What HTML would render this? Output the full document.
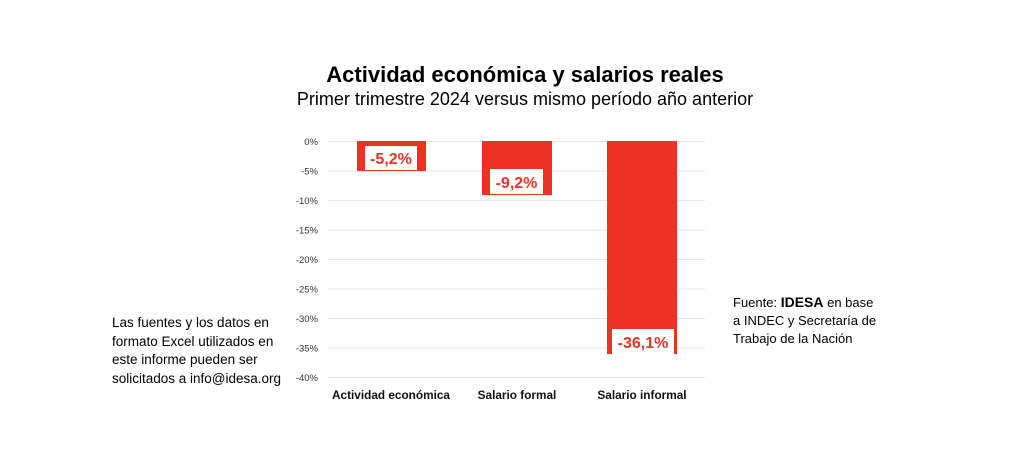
<!DOCTYPE html>
<html><head><meta charset="utf-8"><style>
body{margin:0;width:1024px;height:467px;background:#fff;position:relative;overflow:hidden;font-family:"Liberation Sans",sans-serif;color:#000}
.a{position:absolute;white-space:nowrap}
</style></head><body>
<div class="a" style="left:0;width:1050px;text-align:center;top:62px;font-size:22px;font-weight:bold">Actividad económica y salarios reales</div>
<div class="a" style="left:0;width:1050px;text-align:center;top:89px;font-size:18px">Primer trimestre 2024 versus mismo período año anterior</div>
<svg class="a" style="left:0;top:0" width="1024" height="467">
<g stroke="#e6e6e6" stroke-width="1">
<line x1="328" x2="705" y1="141.5" y2="141.5"/><line x1="328" x2="705" y1="171" y2="171"/><line x1="328" x2="705" y1="200.5" y2="200.5"/><line x1="328" x2="705" y1="230" y2="230"/><line x1="328" x2="705" y1="259.5" y2="259.5"/><line x1="328" x2="705" y1="289" y2="289"/><line x1="328" x2="705" y1="318.5" y2="318.5"/><line x1="328" x2="705" y1="348" y2="348"/><line x1="328" x2="705" y1="377.5" y2="377.5"/>
</g>
<g font-size="9.5" fill="#333" text-anchor="end">
<text x="318" y="145">0%</text><text x="318" y="174.5">-5%</text><text x="318" y="204">-10%</text><text x="318" y="233.5">-15%</text><text x="318" y="263">-20%</text><text x="318" y="292.5">-25%</text><text x="318" y="322">-30%</text><text x="318" y="351.5">-35%</text><text x="318" y="381">-40%</text>
</g>
<g fill="#ec3323">
<rect x="357" y="141" width="69" height="30"/><rect x="482" y="141" width="70" height="54"/><rect x="607" y="141" width="70" height="213"/>
</g>
<g fill="#fff"><rect x="365" y="146" width="52" height="24"/><rect x="490" y="169" width="53" height="25"/><rect x="612" y="329" width="62" height="25"/></g>
<g fill="#ec3323" font-size="16" font-weight="bold" text-anchor="middle">
<text x="391" y="164">-5,2%</text><text x="516.5" y="188">-9,2%</text><text x="643" y="348">-36,1%</text>
</g>
<g font-size="11.8" font-weight="bold" text-anchor="middle" fill="#111">
<text x="391" y="399">Actividad económica</text><text x="517" y="399">Salario formal</text><text x="642" y="399">Salario informal</text>
</g>
</svg>
<div class="a" style="left:112px;top:314px;font-size:13.5px;line-height:18.5px">Las fuentes y los datos en<br>formato Excel utilizados en<br>este informe pueden ser<br>solicitados a info@idesa.org</div>
<div class="a" style="left:733px;top:293px;font-size:13px;line-height:18px">Fuente: <b style="font-size:14px">IDESA</b> en base<br>a INDEC y Secretaría de<br>Trabajo de la Nación</div>
</body></html>
